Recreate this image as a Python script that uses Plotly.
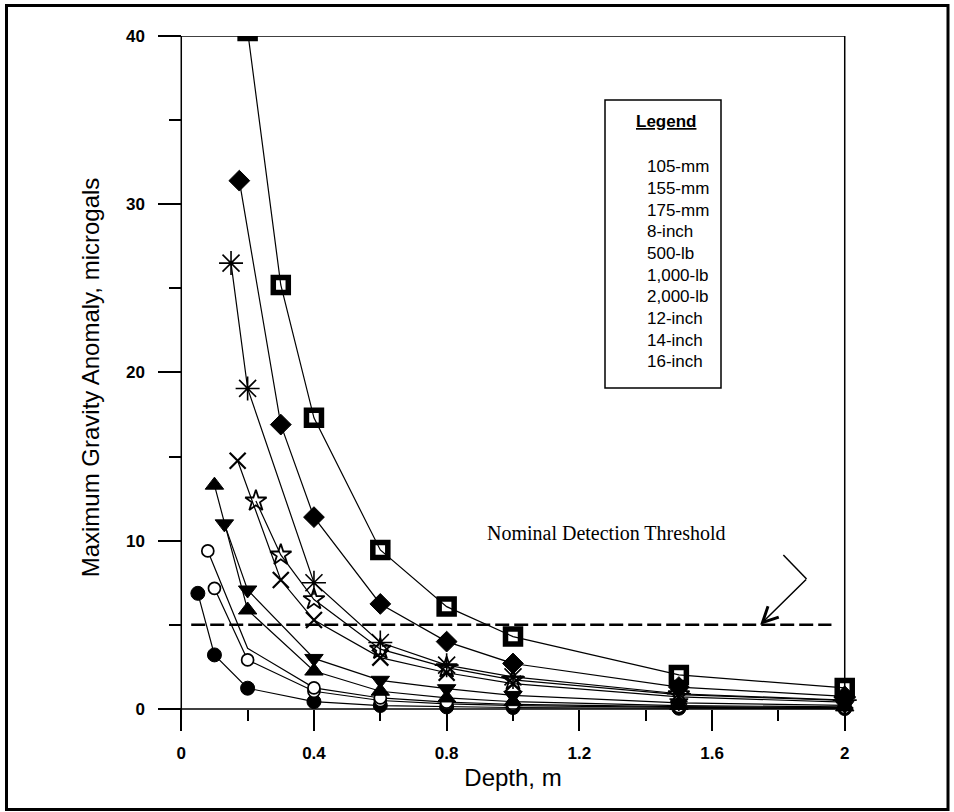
import plotly.graph_objects as go

# ---------------- data ----------------
legend_names = ["105-mm", "155-mm", "175-mm", "8-inch", "500-lb",
                "1,000-lb", "2,000-lb", "12-inch", "14-inch", "16-inch"]

depth_105mm = [0.05, 0.10, 0.20, 0.40, 0.60, 0.80, 1.00, 1.50, 2.00]
grav_105mm = [6.87, 3.21, 1.23, 0.43, 0.20, 0.12, 0.08, 0.04, 0.02]

depth_155mm = [0.10, 0.20, 0.40, 0.60, 0.80, 1.00, 1.50, 2.00]
grav_155mm = [7.17, 2.91, 1.05, 0.50, 0.30, 0.20, 0.09, 0.05]

depth_175mm = [0.08, 0.20, 0.40, 0.60, 0.80, 1.00, 1.50, 2.00]
grav_175mm = [9.39, 3.60, 1.25, 0.65, 0.40, 0.27, 0.13, 0.08]

depth_8inch = [0.10, 0.20, 0.40, 0.60, 0.80, 1.00, 1.50, 2.00]
grav_8inch = [13.3, 5.88, 2.25, 1.05, 0.65, 0.43, 0.20, 0.12]

depth_500lb = [0.13, 0.20, 0.40, 0.60, 0.80, 1.00, 1.50, 2.00]
grav_500lb = [11.0, 7.07, 3.00, 1.70, 1.20, 0.80, 0.36, 0.21]

depth_1000lb = [0.17, 0.30, 0.40, 0.60, 0.80, 1.00, 1.50, 2.00]
grav_1000lb = [14.75, 7.66, 5.29, 3.05, 2.15, 1.50, 0.72, 0.40]

depth_2000lb = [0.175, 0.30, 0.40, 0.60, 0.80, 1.00, 1.50, 2.00]
grav_2000lb = [31.4, 16.9, 11.4, 6.24, 4.00, 2.70, 1.30, 0.75]

depth_12inch = [0.225, 0.30, 0.40, 0.60, 0.80, 1.00, 1.50, 2.00]
grav_12inch = [12.36, 9.15, 6.50, 3.55, 2.45, 1.72, 0.85, 0.50]

depth_14inch = [0.15, 0.20, 0.40, 0.60, 0.80, 1.00, 1.50, 2.00]
grav_14inch = [26.5, 19.05, 7.50, 3.95, 2.60, 1.90, 0.90, 0.52]

depth_16inch = [0.20, 0.30, 0.40, 0.60, 0.80, 1.00, 1.50, 2.00]
grav_16inch = [40.3, 25.2, 17.3, 9.45, 6.08, 4.30, 2.02, 1.25]

threshold_value = 5
threshold_depth_extent = [0.03, 1.96]

x_tick_labels = ["0", "0.4", "0.8", "1.2", "1.6", "2"]
y_tick_labels = ["0", "10", "20", "30", "40"]

# ---------------- styles ----------------
BLACK = "#000000"
series = [
    (legend_names[0], depth_105mm, grav_105mm, dict(symbol="circle", size=14, color=BLACK, line=dict(width=1, color=BLACK))),
    (legend_names[1], depth_155mm, grav_155mm, dict(symbol="circle", size=12, color="white", line=dict(width=1.7, color=BLACK))),
    (legend_names[2], depth_175mm, grav_175mm, dict(symbol="circle", size=12, color="white", opacity=[1, 0, 1, 1, 1, 1, 1, 1], line=dict(width=1.7, color=BLACK))),
    (legend_names[3], depth_8inch, grav_8inch, dict(symbol="triangle-up", size=16, color=BLACK, line=dict(width=1, color=BLACK))),
    (legend_names[4], depth_500lb, grav_500lb, dict(symbol="triangle-down", size=16, color=BLACK, line=dict(width=1, color=BLACK))),
    (legend_names[5], depth_1000lb, grav_1000lb, dict(symbol="x-thin-open", size=16, color=BLACK, line=dict(width=2.2, color=BLACK))),
    (legend_names[7], depth_12inch, grav_12inch, dict(symbol="star-open", size=16, color=BLACK, line=dict(width=1.8, color=BLACK))),
    (legend_names[8], depth_14inch, grav_14inch, dict(symbol="asterisk-open", size=20, color=BLACK, line=dict(width=1.6, color=BLACK))),
    (legend_names[6], depth_2000lb, grav_2000lb, dict(symbol="diamond", size=16, color=BLACK, line=dict(width=1, color=BLACK))),
    (legend_names[9], depth_16inch, grav_16inch, dict(symbol="square-open", size=15, color=BLACK, line=dict(width=5.5, color=BLACK))),
]

fig = go.Figure()

fig.add_trace(go.Scatter(
    x=threshold_depth_extent, y=[threshold_value] * len(threshold_depth_extent),
    mode="lines", line=dict(color=BLACK, width=2.5, dash="14px,5px"),
    name="Nominal Detection Threshold", showlegend=False, hoverinfo="skip"))

for name, xs, ys, mk in series:
    fig.add_trace(go.Scatter(
        x=xs, y=ys, mode="lines+markers", name=name, showlegend=False,
        line=dict(color=BLACK, width=1.2), marker=mk, cliponaxis=True))

# ---------------- layout ----------------
L, R, T, B = 168, 96, 36, 93
W, H = 954, 812
PW, PH = W - L - R, H - T - B
X_LOW, X_HIGH = -0.04, 2.04
Y_LOW, Y_HIGH = -0.6, 40


def px_x(px):
    return (px - L) / PW


def px_y(py):
    return (H - B - py) / PH


FONT = "Liberation Sans, Arial, sans-serif"

fig.update_layout(
    width=W, height=H,
    margin=dict(l=L, r=R, t=T, b=B, pad=0),
    paper_bgcolor="white", plot_bgcolor="white",
    font=dict(family=FONT, color=BLACK),
    showlegend=False,
    xaxis=dict(
        range=[X_LOW, X_HIGH], anchor="free", position=(0 - Y_LOW) / (Y_HIGH - Y_LOW),
        showgrid=False, zeroline=False, showline=False,
        tickmode="array", tickvals=[0, 0.4, 0.8, 1.2, 1.6, 2.0], ticktext=x_tick_labels,
        ticks="outside", ticklen=21, tickwidth=1.5, tickcolor=BLACK,
        tickfont=dict(family=FONT, size=17, color=BLACK, weight="bold"),
        ticklabelstandoff=8,
        minor=dict(tickmode="array", tickvals=[0.2, 0.6, 1.0, 1.4, 1.8],
                   ticks="outside", ticklen=11, tickwidth=1.5, tickcolor=BLACK, showgrid=False),
        title=dict(text="Depth, m", font=dict(family=FONT, size=24, color=BLACK), standoff=6),
    ),
    yaxis=dict(
        range=[Y_LOW, Y_HIGH], anchor="free", position=(0 - X_LOW) / (X_HIGH - X_LOW),
        showgrid=False, zeroline=False, showline=False,
        tickmode="array", tickvals=[0, 10, 20, 30, 40], ticktext=y_tick_labels,
        ticks="outside", ticklen=23, tickwidth=1.5, tickcolor=BLACK,
        tickfont=dict(family=FONT, size=17, color=BLACK, weight="bold"),
        ticklabelstandoff=10,
        minor=dict(tickmode="array", tickvals=[5, 15, 25, 35],
                   ticks="outside", ticklen=12, tickwidth=1.5, tickcolor=BLACK, showgrid=False),
        title=dict(text="Maximum Gravity Anomaly, microgals",
                   font=dict(family=FONT, size=24, color=BLACK), standoff=18),
    ),
)

shapes = [
    # frame of the plot: left, bottom, top, right
    dict(type="line", xref="x", yref="y", x0=0, y0=Y_LOW, x1=0, y1=40, line=dict(color=BLACK, width=1.5)),
    dict(type="line", xref="x", yref="y", x0=0, y0=0, x1=2, y1=0, line=dict(color=BLACK, width=1.5)),
    dict(type="line", xref="x", yref="y", x0=0, y0=40, x1=2, y1=40, line=dict(color=BLACK, width=1.5)),
    dict(type="line", xref="x", yref="y", x0=2, y0=0, x1=2, y1=40, line=dict(color=BLACK, width=1.5)),
    # arrow tail segment
    dict(type="line", xref="x", yref="y", x0=1.815, y0=9.15, x1=1.885, y1=7.72, line=dict(color=BLACK, width=1.5)),
    # legend box
    dict(type="rect", xref="paper", yref="paper", x0=px_x(605), x1=px_x(721), y0=px_y(388), y1=px_y(100),
         line=dict(color=BLACK, width=1.5), fillcolor="white", layer="above"),
    # outer figure border
    dict(type="rect", xref="paper", yref="paper", x0=px_x(6.5), x1=px_x(948), y0=px_y(809.5), y1=px_y(5.5),
         line=dict(color=BLACK, width=3)),
]
fig.update_layout(shapes=shapes)

annotations = [
    dict(text="Nominal Detection Threshold", x=1.281, y=10.46, xref="x", yref="y",
         showarrow=False, font=dict(family="Liberation Serif, Times New Roman, serif", size=20, color=BLACK)),
    dict(text="", x=1.745, y=threshold_value, xref="x", yref="y", ax=1.885, ay=7.72, axref="x", ayref="y",
         showarrow=True, arrowhead=5, arrowsize=2, arrowwidth=1.5, arrowcolor=BLACK, standoff=0,
         font=dict(size=1), borderpad=0),
    dict(text="<b><u>Legend</u></b>", x=px_x(666), y=px_y(122), xref="paper", yref="paper",
         showarrow=False, xanchor="center", yanchor="middle",
         font=dict(family=FONT, size=17, color=BLACK)),
]
for i, nm in enumerate(legend_names):
    annotations.append(dict(text=nm, x=px_x(645), y=px_y(166.7 + i * 21.7), xref="paper", yref="paper",
                            showarrow=False, xanchor="left", yanchor="middle",
                            font=dict(family=FONT, size=17, color=BLACK)))
fig.update_layout(annotations=annotations)

fig.write_html("out.html", config={"displayModeBar": False},
               post_script="document.body.style.margin='0';document.body.style.overflow='hidden';")
